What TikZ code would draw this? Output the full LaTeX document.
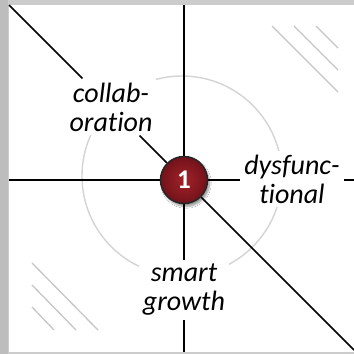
\documentclass[tikz,border=0pt]{standalone}
\usepackage{fontspec}
\newfontfamily\labelfont[Ligatures={NoCommon}, RawFeature={-liga;-clig;-dlig}]{Carlito}
\usetikzlibrary{positioning, shadows.blur}
\definecolor{ballred}{HTML}{A3222A}
\definecolor{balldark}{HTML}{72121A}
\definecolor{hatchgray}{HTML}{C6C6C6}
\definecolor{ringgray}{HTML}{D4D4D4}

\begin{document}
\begin{tikzpicture}[
    x=1pt, y=-1pt,
    term/.style={rectangle, fill=white, inner sep=4pt, align=center, font=\labelfont\itshape\fontsize{28}{29}\selectfont},
    num/.style={circle, draw=black!85, line width=1.5pt, minimum size=47pt, inner sep=0pt, inner color=ballred, outer color=balldark, text=white, font=\labelfont\bfseries\fontsize{27}{27}\selectfont, blur shadow={shadow xshift=2pt, shadow yshift=-3pt, shadow blur steps=8}},
    axis/.style={line width=1.6pt, black},
    ring/.style={line width=1.4pt, ringgray},
    hatch/.style={line width=1.3pt, hatchgray}
]
\useasboundingbox (0,0) rectangle (354,354);

% ================= FRAME =================
\fill[gray!40] (0,0) rectangle (354,354);
\fill[gray!52] (0,0) rectangle (8,354);
\fill[white] (9,5) rectangle (354,352);

% ================= BACKGROUND MARKS =================
\draw[ring] (182,176) circle[radius=100];
\foreach \d in {0,22,44} {
    \draw[hatch] (272+\d,26) -- (338,92-\d);
    \draw[hatch] (32,263+\d) -- (98-\d,330);
}

% ================= NODES =================
\coordinate (tl) at (9,5);
\coordinate (br) at (354,350);
\coordinate (top) at (184,5);
\coordinate (bot) at (184,352);
\coordinate (left) at (9,180);
\coordinate (right) at (354,180);

\node[term] (collab) at (111,107) {collab-\\oration};
\node[term] (dys) at (292,179) {dysfunc-\\tional};
\node[term] (smart) at (184,290) {smart\\growth};
\node[num] (one) at (184,180) {1};

% ================= AXES =================
\draw[axis] (tl) -- (collab);
\draw[axis] (collab) -- (one);
\draw[axis] (one) -- (br);
\draw[axis] (top) -- (one);
\draw[axis] (one) -- (smart);
\draw[axis] (smart) -- (bot);
\draw[axis] (left) -- (one);
\draw[axis] (one) -- (one -| dys.west);
\draw[axis] (dys.east |- one) -- (right);

\end{tikzpicture}
\end{document}
